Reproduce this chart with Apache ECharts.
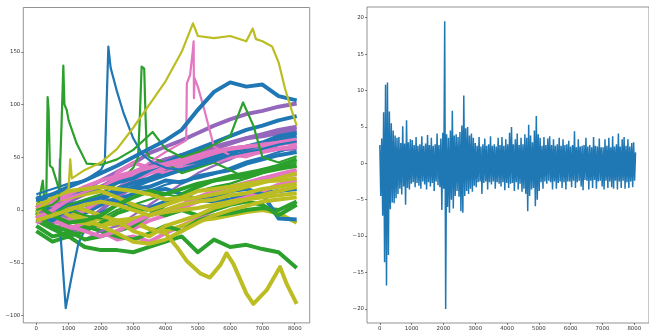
<!DOCTYPE html>
<html>
<head>
<meta charset="utf-8">
<script src="https://cdn.jsdelivr.net/npm/echarts@6/dist/echarts.min.js"></script>
<style>
html,body{margin:0;padding:0;background:#fff;}
#c{width:649px;height:334px;}
</style>
</head>
<body>
<div id="c"></div>
<script>
// ---------- DATA (left panel) ----------
const X = [0,500,1000,1500,2000,2500,3000,3500,4000,4500,5000,5500,6000,6500,7000,7500,8060];
const xTicks = [0,1000,2000,3000,4000,5000,6000,7000,8000];
const yTicksLeft = [-100,-50,0,50,100,150];
const yTicksRight = [-20,-15,-10,-5,0,5,10,15,20];

const blue1 = [10,15,22,28,35,42,50,58,66,76,95,112,121,117,119,108,104];
const blue3 = [12,8,15,18,22,26,30,38,45,52,58,64,70,76,80,85,89];
const blue4 = [5,0,5,8,12,16,22,28,33,38,42,48,54,60,64,70,73];
const blue5 = [-5,-10,2,5,10,18,20,22,28,26,32,35,38,44,48,52,55];
const blue6 = [10,5,0,5,8,10,15,18,20,15,10,12,18,20,15,-8,-9];
const blue7 = [-2,-8,-10,-3,5,8,5,2,8,12,10,8,10,14,16,18,20];
const blue10 = [0,-5,-2,5,12,20,26,30,35,40,45,50,55,58,62,66,70];
const blueDipX = [0,300,500,730,910,1100,1300,1600,2000,2500,3000,3500,4000,4500,5000,5500,6000,6500,7000,7500,8060];
const blueDipY = [12,-5,-15,-15,-93,-62,-32,-12,-2,5,12,18,24,28,30,34,40,46,50,55,60];
const blueSpikeX = [0,500,1000,1500,2000,2120,2230,2300,2500,2700,3000,3300,3600,4000,4500,5000,5500,6000,6500,7000,7500,8060];
const blueSpikeY = [15,20,25,28,38,45,155,135,112,92,68,52,45,40,38,42,46,52,55,58,62,65];

const green1 = [-20,-30,-25,-35,-38,-38,-40,-35,-30,-25,-40,-28,-35,-33,-37,-40,-55];
const green2 = [-15,-25,-22,-15,-20,-25,-28,-22,-15,-20,-10,-5,-3,0,2,0,8];
const green6 = [5,-5,-12,-10,-5,5,12,18,15,20,25,28,30,32,38,42,48];
const green7 = [-10,-18,-25,-20,-12,-3,2,0,-5,0,-5,0,5,8,5,-5,5];
const green8 = [-5,-15,-20,-28,-25,-20,-15,-5,5,15,22,28,32,35,38,40,42];
const greenS1X = [0,200,300,330,350,380,420,500,700,1000,1500,2000,2500,3000,3500,4000,4500,5000,5500,6000,6500,7000,7500,8060];
const greenS1Y = [-5,28,-10,60,107,95,42,40,20,0,-5,-8,0,5,10,15,12,18,22,25,30,35,38,41];
const greenS2X = [0,500,700,780,836,870,940,1000,1250,1560,2000,2500,3000,3600,4000,4500,5000,5500,6000,6400,6720,7000,7500,8060];
const greenS2Y = [0,5,10,80,137,100,95,85,63,44,43,48,57,74,58,50,55,62,70,102,80,50,45,51];
const greenS3X = [0,500,1000,1500,2000,2500,3000,3150,3200,3260,3340,3380,3420,3500,4000,4500,5000,5500,6000,6500,7000,7500,8060];
const greenS3Y = [-10,-5,5,10,15,25,40,50,85,136,134,90,55,50,45,35,40,45,38,30,35,40,45];

const purple1 = [0,5,12,20,28,36,44,54,60,66,73,80,86,91,94,98,101];
const purple2 = [-5,-2,-8,-12,0,12,22,30,38,45,52,58,63,68,72,76,79];
const purple4 = [-8,-12,-5,0,8,20,30,42,48,52,54,55,56,57,57,58,58];
const purple5 = [-3,2,8,15,22,30,36,42,48,52,56,60,64,68,70,73,76];
const purple3X = [0,500,700,730,760,1000,1500,2000,2500,3000,3500,4000,4500,5000,5500,6000,6500,7000,7500,8060];
const purple3Y = [3,-5,-8,48,-10,-15,-28,-20,-15,-5,5,15,25,35,42,48,55,62,68,73];

const pink1 = [-8,0,10,18,22,28,32,38,42,46,50,54,58,60,62,64,67];
const pink2 = [0,5,3,8,12,35,45,40,35,40,42,46,50,53,55,58,60];
const pink3 = [-10,-15,-18,-12,-15,-10,-18,-10,-5,2,8,12,18,25,30,34,38];
const pink4 = [-3,-8,-5,-10,-20,-28,-25,-30,-22,-15,-8,0,8,12,18,24,28];
const pink6 = [-12,-5,-10,0,10,20,28,35,40,44,48,52,58,60,58,62,65];
const pink7 = [2,8,15,22,28,32,36,40,44,48,52,56,58,60,62,63,64];
const pink8 = [-5,-10,-15,-20,-25,-20,-12,-5,0,5,12,18,22,26,30,32,34];
const pinkSpikeX = [0,1000,2000,3000,4000,4640,4660,4760,4840,4870,4880,4900,5000,5200,5500,6000,6500,7000,7500,8060];
const pinkSpikeY = [5,12,22,35,55,66,120,128,150,160,106,125,117,95,60,52,50,55,58,62];

const olive2 = [0,8,12,15,18,12,5,0,5,10,12,15,18,22,26,30,35];
const olive3 = [-5,-5,5,0,-5,-10,-20,-25,-15,-10,-5,2,6,10,14,18,22];
const olive4 = [5,10,0,-8,-15,-10,-8,-5,-2,0,2,5,8,10,12,14,16];
const olive5 = [-8,-15,-18,-12,-8,-15,-12,-18,-20,-15,-10,-8,-5,-2,0,-3,-12];
const olive7 = [-2,12,18,20,22,20,18,15,10,12,18,20,22,25,27,28,30];
const olive8 = [-10,-5,0,5,8,5,0,-5,0,5,8,10,14,16,20,22,25];
const olive9 = [3,5,-5,-10,-15,-22,-30,-32,-28,-20,-12,-5,0,4,8,10,12];
const oliveTopX = [0,400,800,1000,1050,1100,1500,2000,2500,3000,3500,4000,4500,4850,5000,5500,6000,6500,6700,6800,7000,7300,7500,7700,7900,8060];
const oliveTopY = [5,10,15,20,48,30,38,45,58,78,100,122,150,177,165,163,165,160,172,162,160,155,140,115,95,80];
const oliveLowX = [0,1000,2000,3000,3500,4000,4350,4650,5070,5375,5700,5890,6100,6500,6720,7130,7545,7750,8060];
const oliveLowY = [-5,-10,-15,-10,-18,-22,-35,-48,-60,-64,-52,-41,-51,-79,-89,-76,-54,-70,-89];

// ---------- DATA (right panel) ----------
const SIGNAL_STEP = 30;
const signal = [
 2.5,-4.5,3.4,-7.2,7,-13.6,10.8,-16.8,11.1,-12.6,7.1,-6.3,5.5,-5.4,4.5,-5.5,3.8,-4.8,3.5,-4.2,
 3.6,-3.5,2.8,-4.3,5.1,-3.2,2.7,-5.7,5.9,-3.4,2.9,-3.6,3.3,-2.8,
 3.2,-2.6,2.5,-3.3,3.6,-2.7,2.4,-3.1,2.6,-3.5,
 3.7,-2.5,2.4,-2.9,2.7,-3.6,3.9,-2.6,2.5,-3.2,
 3.5,-2.7,2.4,-3.8,2.6,-2.5,4.1,-3,2.5,-3.3,
 3.4,-6.4,4.2,
 -3.5,19.5,-20,4,-6,3.5,-6.8,4.5,-5,7.2,-6.2,3.8,-4.5,4,-3.8,3.6,-4.6,4.3,-6.6,5.2,-6.8,9.3,-4.5,4.8,-3.8,5,-4.2,3.8,-3.5,4.1,-3.9,3.5,-3.1,
 2.8,-3.3,2.4,-2.6,3.6,-2.5,2.3,-4.2,2.6,-2.7,3.4,-2.5,2.4,-3.6,2.6,-2.6,3.7,-2.9,2.4,-2.5,
 2.6,-3.5,2.3,-2.6,3.5,-2.8,2.5,-3.2,3.6,-2.6,2.4,-3.7,3.3,-2.7,
 2.6,-3.4,4.2,-2.8,5,-2.7,2.6,-3.8,3.3,-2.6,4.1,-3.6,2.5,-2.8,3.5,-3.9,2.6,
 -3.5,4.0,-4.2,3.5,-6.6,5.3,-4.5,3.8,-3.6,2.9,
 -3.4,4.5,-5.9,6.5,-5,4,-3.8,3.5,
 -2.6,2.4,-3.5,3.6,-2.5,2.5,-2.8,3.4,-2.4,3.7,-2.6,2.5,-3.6,3.3,-2.5,2.4,-3.5,2.6,-2.7,3.5,
 -2.5,2.4,-3.4,3.3,-2.6,2.5,-3.6,2.6,-2.5,3.1,
 -2.5,2.3,-3.3,2.5,-2.4,4.4,-3.4,2.2,-2.6,3.3,-2.4,2.3,-3.2,2.4,-3.7,2.5,-2.3,3.5,-2.4,2.3,
 -3.6,2.5,-2.4,2.2,-3.4,3.6,-2.3,2.4,-3.5,2.3,-2.5,3.4,-2.4,2.2,
 -3.2,2.2,-3.6,3.3,-2.4,2.4,-3.4,3.5,-2.5,2.2,-3.3,3.7,-3.5,2.3,-2.4,2.6,-3.6,4.1,-2.5,2.3,
 -3.4,3.3,-2.4,3.6,-3.5,2.4,-2.6,3.3,-3.4,2.3,-2.5,2.8,-3.3,2.9,-2.4,1.5
];

// ---------- BUILD ----------
const C = {blue:'#1f77b4', green:'#2ca02c', purple:'#9467bd', pink:'#e377c2', olive:'#bcbd22'};
const pair = (xs, ys) => ys.map((v,i)=>[xs[i], v]);
const leftLines = [
  ['blue', X, blue7], ['green', X, green1], ['purple', X, purple2], ['pink', X, pink4], ['olive', X, olive5],
  ['blue', blueDipX, blueDipY], ['green', X, green2], ['purple', purple3X, purple3Y], ['pink', X, pink3], ['olive', oliveLowX, oliveLowY],
  ['blue', X, blue6], ['green', X, green7], ['purple', X, purple4], ['pink', X, pink6], ['olive', X, olive4],
  ['blue', X, blue10], ['green', X, green8], ['purple', X, purple5], ['pink', X, pink8], ['olive', X, olive9],
  ['blue', X, blue5], ['green', greenS1X, greenS1Y], ['purple', X, purple1], ['pink', X, pink2], ['olive', X, olive3],
  ['blue', X, blue4], ['green', greenS3X, greenS3Y], ['pink', X, pink1], ['olive', X, olive2],
  ['blue', X, blue3], ['green', X, green6], ['pink', X, pink7], ['olive', X, olive8],
  ['pink', pinkSpikeX, pinkSpikeY], ['olive', X, olive7],
  ['blue', blueSpikeX, blueSpikeY], ['green', greenS2X, greenS2Y], ['blue', X, blue1], ['olive', oliveTopX, oliveTopY]
];
const spiky = new Set([blueDipY, blueSpikeY, greenS1Y, greenS2Y, greenS3Y, pinkSpikeY, purple3Y, oliveTopY]);

const series = leftLines.map(([c, xs, ys]) => ({
  type:'line', xAxisIndex:0, yAxisIndex:0, data: pair(xs, ys),
  symbol:'none', silent:true,
  lineStyle:{color:C[c], width: spiky.has(ys) ? 2.2 : 4, join:'round'}
}));
series.push({
  type:'line', xAxisIndex:1, yAxisIndex:1,
  data: signal.map((v,i)=>[i*SIGNAL_STEP, v]),
  symbol:'none', silent:true,
  lineStyle:{color:C.blue, width:1.5}
});

const fmt = v => (v < 0 ? '\u2212' + Math.abs(v) : String(v));
const lab = vals => ({customValues: vals, fontSize:5.4, color:'#333', fontFamily:'DejaVu Sans', margin:3, formatter: fmt});
const tick = vals => ({show:true, inside:false, customValues: vals, length:2, lineStyle:{color:'#444', width:0.7}});
const line = {show:false, onZero:false};

const chart = echarts.init(document.getElementById('c'), null, {renderer:'canvas'});
chart.setOption({
  animation:false,
  backgroundColor:'#fff',
  grid:[
    {left:23.3, top:7.5, width:286.4, height:315.4, show:true, borderColor:'#777', borderWidth:0.8, backgroundColor:'#fff'},
    {left:367, top:7, width:285, height:316, show:true, borderColor:'#777', borderWidth:0.8, backgroundColor:'#fff'}
  ],
  xAxis:[
    {type:'value', gridIndex:0, position:'bottom', min:-403, max:8463, axisLine:line, splitLine:{show:false}, axisTick:tick(xTicks), axisLabel:lab(xTicks)},
    {type:'value', gridIndex:1, position:'bottom', min:-403, max:8463, axisLine:line, splitLine:{show:false}, axisTick:tick(xTicks), axisLabel:lab(xTicks)}
  ],
  yAxis:[
    {type:'value', gridIndex:0, position:'left', min:-107, max:192, axisLine:line, splitLine:{show:false}, axisTick:tick(yTicksLeft), axisLabel:lab(yTicksLeft)},
    {type:'value', gridIndex:1, position:'left', min:-21.94, max:21.47, axisLine:line, splitLine:{show:false}, axisTick:tick(yTicksRight), axisLabel:lab(yTicksRight)}
  ],
  series: series
});
</script>
</body>
</html>
